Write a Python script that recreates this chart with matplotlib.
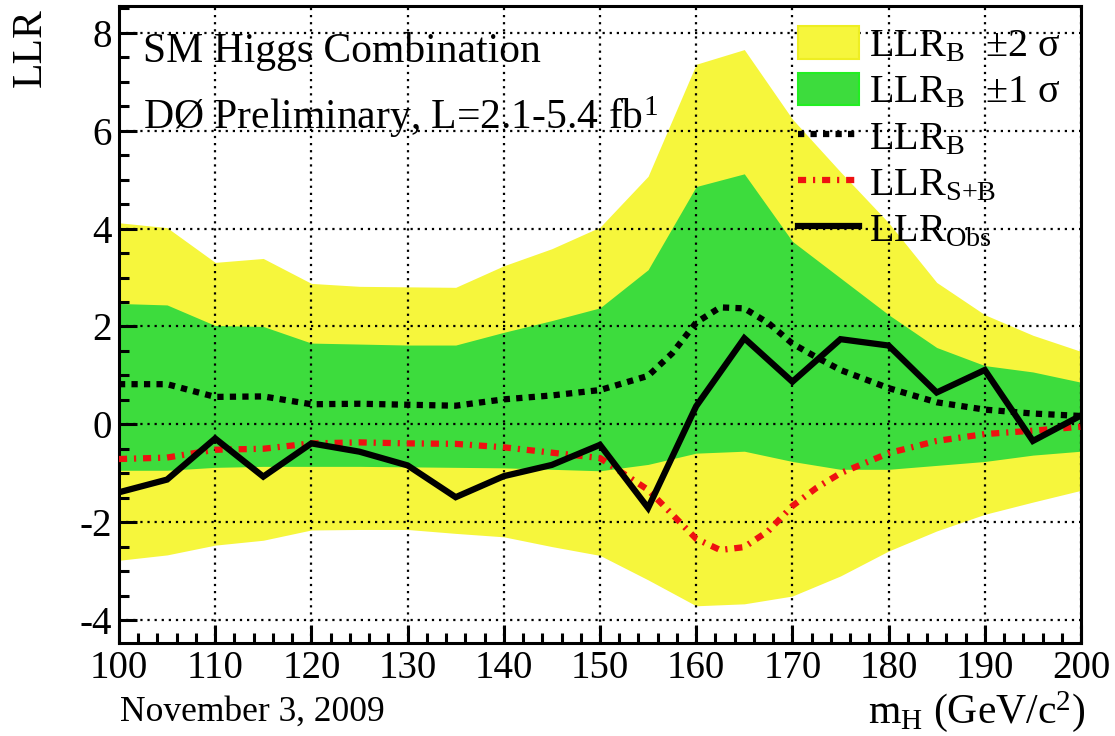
import matplotlib
matplotlib.use('Agg')
import matplotlib.pyplot as plt
from matplotlib.patches import Patch
from matplotlib.lines import Line2D
from matplotlib.ticker import MultipleLocator

plt.rcParams['font.family'] = ['Liberation Serif', 'DejaVu Serif']
plt.rcParams['mathtext.fontset'] = 'custom'
plt.rcParams['mathtext.rm'] = 'Liberation Serif'
plt.rcParams['mathtext.it'] = 'Liberation Serif:italic'
plt.rcParams['axes.unicode_minus'] = False

# LLR vs Higgs mass
mass = [100, 105, 110, 115, 120, 125, 130, 135, 140, 145, 150,
        155, 160, 165, 170, 175, 180, 185, 190, 195, 200]
llr_obs = [-1.39, -1.13, -0.29, -1.07, -0.39, -0.56, -0.84, -1.49, -1.06, -0.83, -0.42,
           -1.71, 0.37, 1.76, 0.87, 1.74, 1.61, 0.65, 1.11, -0.34, 0.18]
band_up2 = [4.12, 4.02, 3.31, 3.39, 2.88, 2.82, 2.81, 2.80, 3.24, 3.59, 4.03,
            5.07, 7.36, 7.66, 6.24, 5.16, 4.12, 2.90, 2.24, 1.82, 1.49]
band_up1 = [2.47, 2.44, 2.02, 2.00, 1.66, 1.64, 1.62, 1.62, 1.88, 2.12, 2.38,
            3.16, 4.86, 5.12, 3.74, 2.99, 2.24, 1.57, 1.20, 1.07, 0.86]
band_lo1 = [-0.94, -0.94, -0.88, -0.86, -0.86, -0.86, -0.87, -0.88, -0.89, -0.92, -0.95,
            -0.82, -0.59, -0.55, -0.76, -0.92, -0.92, -0.84, -0.76, -0.63, -0.55]
band_lo2 = [-2.78, -2.67, -2.47, -2.37, -2.16, -2.15, -2.15, -2.23, -2.30, -2.50, -2.68,
            -3.18, -3.71, -3.67, -3.51, -3.10, -2.59, -2.18, -1.84, -1.59, -1.35]

# expected curves, a bit finer around the peak
mass_exp = [100, 105, 110, 115, 120, 125, 130, 135, 140, 145, 150, 155, 157.5,
            160, 162.5, 165, 167.5, 170, 172.5, 175, 180, 185, 190, 195, 200]
llr_b = [0.82, 0.82, 0.56, 0.57, 0.41, 0.42, 0.40, 0.38, 0.51, 0.59, 0.70, 0.99, 1.45,
         2.08, 2.39, 2.37, 2.07, 1.65, 1.37, 1.11, 0.74, 0.45, 0.30, 0.22, 0.17]
llr_sb = [-0.71, -0.68, -0.52, -0.50, -0.39, -0.37, -0.39, -0.40, -0.47, -0.58, -0.69, -1.34, -1.84,
          -2.34, -2.57, -2.51, -2.18, -1.67, -1.30, -1.00, -0.59, -0.34, -0.20, -0.13, -0.05]

yellow = '#f6f63c'
green = '#3ddc3d'

fig = plt.figure(figsize=(11.15, 7.36), dpi=100)
ax = fig.add_axes([0.1067, 0.1264, 0.8628, 0.8654])

ax.fill_between(mass, band_lo2, band_up2, color=yellow, lw=0, zorder=1)
ax.fill_between(mass, band_lo1, band_up1, color=green, lw=0, zorder=1.1)

lw = 4.5
ax.plot(mass_exp, llr_b, color='black', lw=lw, ls=(0, (1.0, 1.0)), zorder=3)
ax.plot(mass_exp, llr_sb, color='#ee1111', lw=lw, ls=(0, (1.3, 1.1, 0.35, 1.1)), zorder=3)
ax.plot(mass, llr_obs, color='black', lw=lw, solid_joinstyle='miter', zorder=3.2)

ax.set_xlim(100, 200)
ax.set_ylim(-4.47, 8.55)
ax.xaxis.set_major_locator(MultipleLocator(10))
ax.xaxis.set_minor_locator(MultipleLocator(2))
ax.yaxis.set_major_locator(MultipleLocator(2))
ax.yaxis.set_minor_locator(MultipleLocator(0.5))
ax.tick_params(which='both', direction='in', top=False, right=False, width=2.2, labelsize=28)
ax.tick_params(which='major', length=13)
ax.tick_params(which='minor', length=7)
ax.tick_params(axis='x', pad=5)
ax.tick_params(axis='y', pad=5)
for s in ax.spines.values():
    s.set_linewidth(2.2)

ax.set_axisbelow(False)
ax.grid(True, which='major', color='black', ls=(0, (1, 2.2)), lw=1.6)

ax.text(0.025, 0.912, 'SM Higgs Combination', transform=ax.transAxes, fontsize=30, va='baseline')
ax.text(0.025, 0.807, r'DØ Preliminary, L=2.1-5.4 $\mathrm{fb}^{1}$', transform=ax.transAxes,
        fontsize=30, va='baseline')

handles = [
    Patch(facecolor=yellow, edgecolor='#eeee22', lw=1.5),
    Patch(facecolor=green, edgecolor='#22ee22', lw=1.5),
    Line2D([], [], color='black', lw=lw, ls=(0, (1.0, 1.0))),
    Line2D([], [], color='#ee1111', lw=lw, ls=(0, (1.3, 1.1, 0.35, 1.1))),
    Line2D([], [], color='black', lw=lw),
]
labels = [
    r'$\mathrm{LLR}_{\mathrm{B}}$  ±2 σ',
    r'$\mathrm{LLR}_{\mathrm{B}}$  ±1 σ',
    r'$\mathrm{LLR}_{\mathrm{B}}$',
    r'$\mathrm{LLR}_{\mathrm{S{+}B}}$',
    r'$\mathrm{LLR}_{\mathrm{Obs}}$',
]
ax.legend(handles, labels, loc='upper left', bbox_to_anchor=(0.706, 0.968), frameon=False,
          fontsize=29, handlelength=1.5, handleheight=0.85, handletextpad=0.25,
          labelspacing=0.18, borderaxespad=0.0, borderpad=0.0)

fig.text(30 / 1115, 1 - 8 / 736, 'LLR', rotation=90, ha='center', va='top', fontsize=30)
fig.text(1085 / 1115, 1 - 712 / 736, r'$\mathrm{m}_{\mathrm{H}}$ (GeV/$\mathrm{c}^{2}$)',
         ha='right', va='center', fontsize=30)
fig.text(120 / 1115, 1 - 712 / 736, 'November 3, 2009', ha='left', va='center', fontsize=25.5)

fig.savefig('out.png', dpi=100)
